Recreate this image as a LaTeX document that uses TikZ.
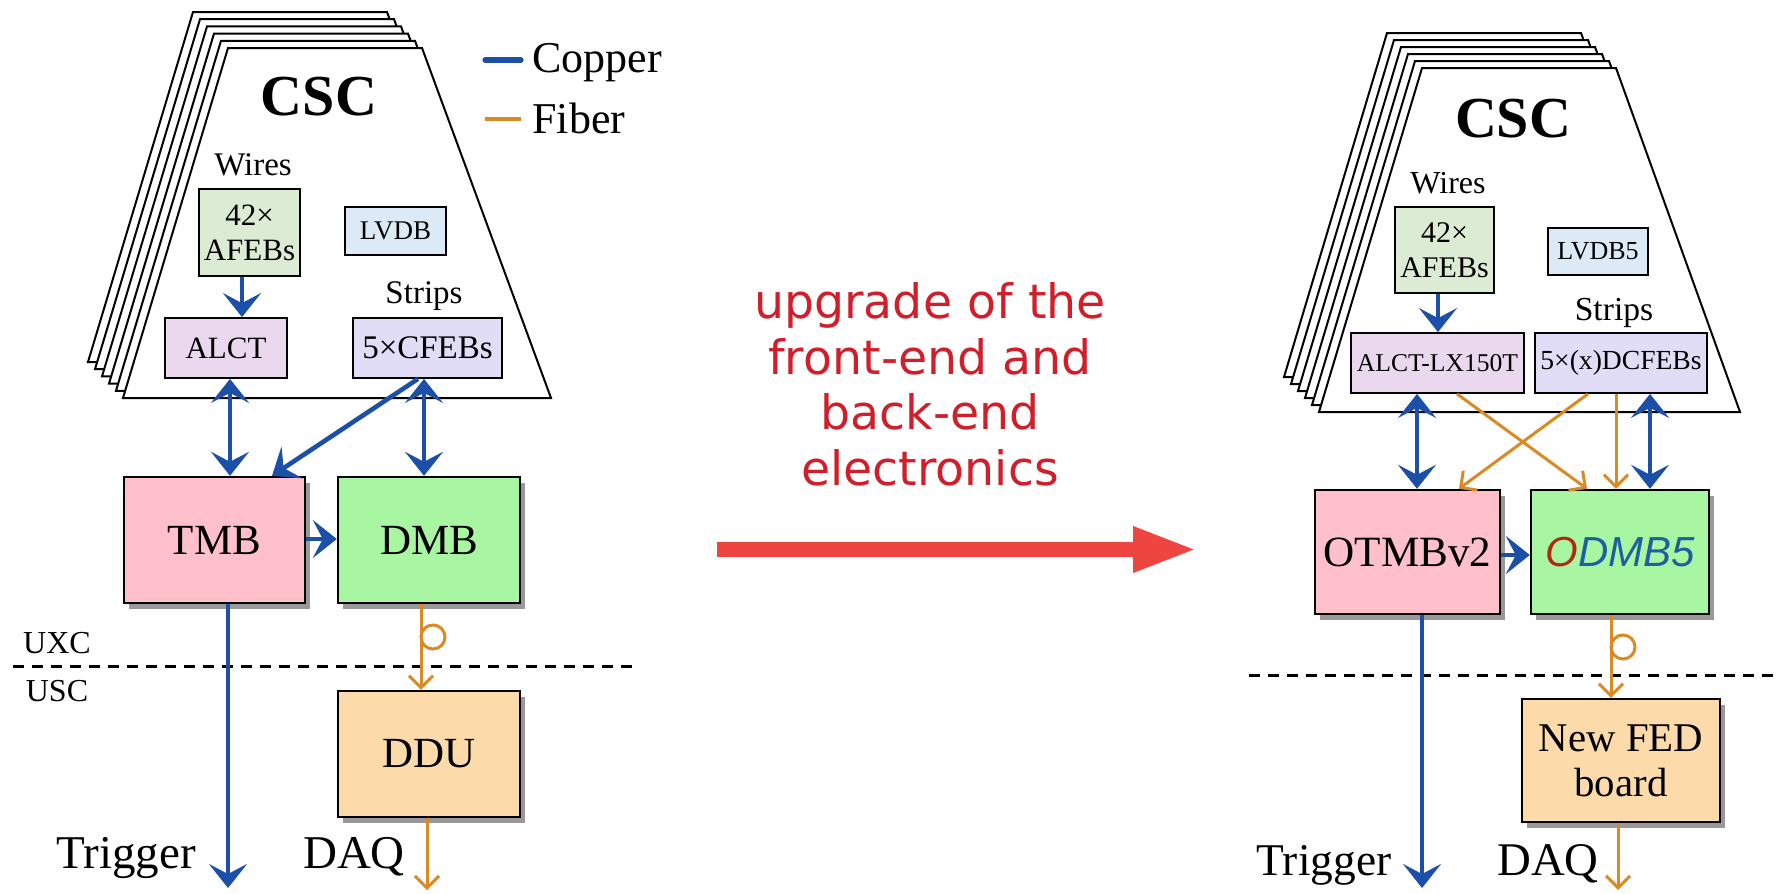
\documentclass[tikz,border=0pt]{standalone}
\usepackage{fontspec}
\setmainfont{Liberation Serif}
\newfontfamily\djv{DejaVu Sans}
\newfontfamily\handf{Liberation Sans}
\usetikzlibrary{arrows.meta,shadows,calc}
\definecolor{cublue}{HTML}{1C4FA8}
\definecolor{fiorange}{HTML}{D98A22}
\definecolor{afebc}{HTML}{DCEBD3}
\definecolor{lvdbc}{HTML}{DCEAF7}
\definecolor{alctc}{HTML}{EAD9EE}
\definecolor{cfebc}{HTML}{E2DDF6}
\definecolor{tmbc}{HTML}{FFC0CB}
\definecolor{dmbc}{HTML}{A8F5A2}
\definecolor{dduc}{HTML}{FCDAAA}
\definecolor{redtxt}{HTML}{D01F2A}
\definecolor{redarr}{HTML}{EE4541}
\definecolor{odmbo}{HTML}{B02A10}
\definecolor{odmbd}{HTML}{1E5FA0}
\newcommand\fz[2]{\fontsize{#1}{#2}\selectfont}
\begin{document}
\begin{tikzpicture}[x=0.5pt,y=-0.5pt,
  lay/.style={draw=black,fill=white,line width=1pt,line join=miter},
  sbox/.style={draw=black,line width=0.9pt,inner sep=0pt,align=center},
  bbox/.style={draw=black,line width=1.2pt,inner sep=0pt,align=center,
    drop shadow={shadow xshift=2.5pt,shadow yshift=-3pt,opacity=0.4,fill=black}},
  lbl/.style={inner sep=0pt,anchor=base},
  cu/.style={draw=cublue,line width=2.3pt,-{Stealth[length=12pt,width=19pt,inset=5pt]}},
  cud/.style={draw=cublue,line width=2.3pt,{Stealth[length=12pt,width=19pt,inset=5pt]}-{Stealth[length=12pt,width=19pt,inset=5pt]}},
  fi/.style={draw=fiorange,line width=1.5pt,-{Straight Barb[length=6pt,width=12pt]}},
  coil/.style={draw=fiorange,line width=1.5pt},
  sepline/.style={draw=black,line width=1.5pt,dash pattern=on 5.5pt off 4pt},
]
\useasboundingbox (0,0) rectangle (1778,894);

% ---------- stacked chambers ----------
\foreach \k in {5,4,3,2,1,0}{
  \draw[lay,shift={({-7*\k},{-7.2*\k})}] (228,48) -- (422,48) -- (551,398) -- (123,398) -- cycle;
  \draw[lay,shift={({-7*\k},{-7*\k})}] (1422,68) -- (1616,68) -- (1740,412) -- (1319,412) -- cycle;
}

% ---------- left diagram ----------
\node[lbl,font=\fz{29}{32}\bfseries] (cscL) at (319,115) {CSC};
\coordinate (cu1) at (485,60); \coordinate (cu2) at (521,60);
\draw[cublue,line width=2.6pt,line cap=round] (cu1) -- (cu2);
\node[lbl,anchor=base west,font=\fz{22}{24}] (copper) at (532,72) {Copper};
\coordinate (fi1) at (485,119); \coordinate (fi2) at (521,119);
\draw[fiorange,line width=1.8pt] (fi1) -- (fi2);
\node[lbl,anchor=base west,font=\fz{22}{24}] (fiber) at (532,133) {Fiber};

\node[lbl,font=\fz{16.5}{18}] (wiresL) at (253,175) {Wires};
\node[sbox,fill=afebc,minimum width=50.5pt,minimum height=43.5pt,font=\fz{15.5}{17.5}] (afebL) at (249.5,232.5) {42×\\AFEBs};
\node[sbox,fill=lvdbc,minimum width=50.5pt,minimum height=24pt,font=\fz{13.5}{15}] (lvdbL) at (395.5,231) {LVDB};
\node[lbl,font=\fz{16.5}{18}] (stripsL) at (424,303) {Strips};
\node[sbox,fill=alctc,minimum width=61pt,minimum height=30pt,font=\fz{15.5}{17}] (alctL) at (226,348) {ALCT};
\node[sbox,fill=cfebc,minimum width=74.5pt,minimum height=30pt,font=\fz{16.5}{18}] (cfebL) at (427.5,348) {5×CFEBs};
\node[bbox,fill=tmbc,minimum width=90.5pt,minimum height=63pt,font=\fz{21.5}{24}] (tmbL) at (214.5,540) {TMB};
\node[bbox,fill=dmbc,minimum width=91pt,minimum height=63pt,font=\fz{21.5}{24}] (dmbL) at (429,540) {DMB};
\node[bbox,fill=dduc,minimum width=91pt,minimum height=63pt,font=\fz{21.5}{24}] (dduL) at (429,754) {DDU};
\node[lbl,font=\fz{16}{18}] (uxc) at (57,653) {UXC};
\node[lbl,font=\fz{16}{18}] (usc) at (57,701) {USC};
\node[lbl,font=\fz{23.5}{26}] (trigL) at (126,868) {Trigger};
\node[lbl,font=\fz{23.5}{26}] (daqL) at (354,868) {DAQ};

\coordinate (dl1) at (13,666); \coordinate (dl2) at (633,666);
\draw[sepline] (dl1) -- (dl2);

\coordinate (xa) at (242,0);
\draw[cu] (afebL.south -| xa) -- (alctL.north -| xa);
\coordinate (xb) at (230,0);
\draw[cud] (alctL.south -| xb) -- (tmbL.north -| xb);
\coordinate (xc) at (424,0);
\draw[cud] (cfebL.south -| xc) -- (dmbL.north -| xc);
\coordinate (xd) at (418,0); \coordinate (xe) at (272,0);
\draw[cu] (cfebL.south -| xd) -- (tmbL.north -| xe);
\coordinate (ya) at (0,539);
\draw[cu] (tmbL.east |- ya) -- (dmbL.west |- ya);
\coordinate (xt) at (228,0); \coordinate (trigEndL) at (228,888);
\draw[cu] (tmbL.south -| xt) -- (trigEndL);
\coordinate (xf) at (421,0);
\draw[fi] (dmbL.south -| xf) -- (dduL.north -| xf);
\coordinate (loopL) at (433,637);
\draw[coil] (loopL) circle[radius=12];
\coordinate (xq) at (427,0); \coordinate (daqEndL) at (427,890);
\draw[fi] (dduL.south -| xq) -- (daqEndL);

% ---------- middle ----------
\node[anchor=north,inner sep=0pt,align=center,text=redtxt,font=\djv\fz{23.7}{27.8}] (upg) at (930,282) {upgrade of the\\front-end and\\back-end\\electronics};
\coordinate (ra1) at (717,549.5); \coordinate (ra2) at (1197,549.5);
\draw[redarr,line width=7.5pt,-{Triangle[length=32pt,width=21pt]}] (ra1) -- (ra2);

% ---------- right diagram ----------
\node[lbl,font=\fz{29}{32}\bfseries] (cscR) at (1513,137) {CSC};
\node[lbl,font=\fz{16}{18}] (wiresR) at (1448,193) {Wires};
\node[sbox,fill=afebc,minimum width=49.5pt,minimum height=43pt,font=\fz{15}{17.5}] (afebR) at (1444.5,250) {42×\\AFEBs};
\node[sbox,fill=lvdbc,minimum width=50pt,minimum height=23.5pt,font=\fz{13}{15}] (lvdbR) at (1598,251.5) {LVDB5};
\node[lbl,font=\fz{16.8}{18}] (stripsR) at (1614,320) {Strips};
\node[sbox,fill=alctc,minimum width=86.5pt,minimum height=30pt,font=\fz{12.8}{15}] (alctR) at (1437.5,363) {ALCT-LX150T};
\node[sbox,fill=cfebc,minimum width=86pt,minimum height=30pt,font=\fz{13.8}{15}] (cfebR) at (1621,363) {5×(x)DCFEBs};
\node[bbox,fill=tmbc,minimum width=92.5pt,minimum height=62pt,font=\fz{21.6}{24}] (otmbR) at (1407.5,552) {OTMBv2};
\node[bbox,fill=dmbc,minimum width=89pt,minimum height=62pt,font=\handf\itshape\fz{21}{24}] (odmbR) at (1620,552) {\textcolor{odmbo}{O}\textcolor{odmbd}{DMB5}};
\node[bbox,fill=dduc,minimum width=99pt,minimum height=61.5pt,font=\fz{20.4}{22.5}] (fedR) at (1621,760.5) {New FED\\board};
\node[lbl,font=\fz{22.7}{26}] (trigR) at (1324,875) {Trigger};
\node[lbl,font=\fz{23.4}{26}] (daqR) at (1548,875) {DAQ};

\coordinate (dr1) at (1249,675); \coordinate (dr2) at (1778,675);
\draw[sepline] (dr1) -- (dr2);

\coordinate (xg) at (1438,0);
\draw[cu] (afebR.south -| xg) -- (alctR.north -| xg);
\coordinate (xh) at (1417,0);
\draw[cud] (alctR.south -| xh) -- (otmbR.north -| xh);
\coordinate (xi) at (1650,0);
\draw[cud] (cfebR.south -| xi) -- (odmbR.north -| xi);
\coordinate (xj) at (1457,0); \coordinate (xk) at (1587,0);
\draw[fi] (alctR.south -| xj) -- (odmbR.north -| xk);
\coordinate (xl) at (1588,0); \coordinate (xm) at (1459,0);
\draw[fi] (cfebR.south -| xl) -- (otmbR.north -| xm);
\coordinate (xn) at (1616,0);
\draw[fi] (cfebR.south -| xn) -- (odmbR.north -| xn);
\coordinate (yb) at (0,555);
\draw[cu] (otmbR.east |- yb) -- (odmbR.west |- yb);
\coordinate (xu) at (1422,0); \coordinate (trigEndR) at (1422,888);
\draw[cu] (otmbR.south -| xu) -- (trigEndR);
\coordinate (xv) at (1611,0);
\draw[fi] (odmbR.south -| xv) -- (fedR.north -| xv);
\coordinate (loopR) at (1623,647);
\draw[coil] (loopR) circle[radius=12];
\coordinate (xw) at (1618,0); \coordinate (daqEndR) at (1618,890);
\draw[fi] (fedR.south -| xw) -- (daqEndR);
\end{tikzpicture}
\end{document}
